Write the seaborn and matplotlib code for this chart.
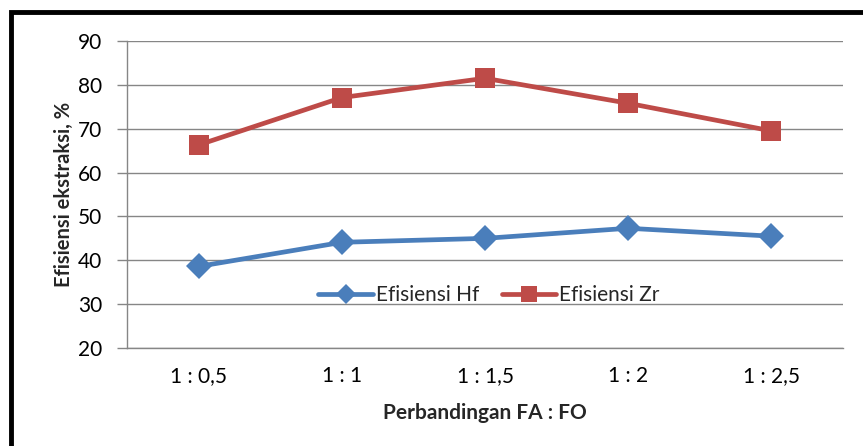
import matplotlib
matplotlib.use("Agg")
import matplotlib.pyplot as plt
import matplotlib.patches as mpatches
import seaborn as sns
import pandas as pd
import numpy as np

categories = ["1 : 0,5", "1 : 1", "1 : 1,5", "1 : 2", "1 : 2,5"]
hf_values = [38.6, 44.1, 45.0, 47.3, 45.5]
zr_values = [66.3, 77.1, 81.5, 75.8, 69.5]
series_names = ["Efisiensi Hf", "Efisiensi Zr"]
y_ticks = [20, 30, 40, 50, 60, 70, 80, 90]

df = pd.DataFrame({
    "x": list(range(len(categories))) * 2,
    "y": hf_values + zr_values,
    "series": [series_names[0]] * len(categories) + [series_names[1]] * len(categories),
})

sns.set_theme(style="white")
plt.rcParams["font.family"] = ["Lato", "DejaVu Sans"]

fig = plt.figure(figsize=(8.63, 4.46), dpi=100)
ax = fig.add_axes([127/863, 1-348/446, (843-127)/863, (348-41)/446])

sns.lineplot(data=df, x="x", y="y", hue="series", style="series",
             markers={series_names[0]: "D", series_names[1]: "s"}, dashes=False,
             palette={series_names[0]: "#4A7EBB", series_names[1]: "#BE4B48"},
             linewidth=3.4, markersize=11, markeredgewidth=0, ax=ax, zorder=3)
for line in ax.lines:
    if line.get_marker() == "s":
        line.set_markersize(14.5)
    elif line.get_marker() == "D":
        line.set_markersize(13)

ax.set_xlim(-0.5, len(categories) - 0.5)
ax.set_ylim(20, 90)
ax.set_yticks(y_ticks)
ax.set_xticks(range(len(categories)))
ax.set_xticklabels(categories)
ax.set_xticks(np.arange(-0.5, len(categories), 1.0), minor=True)
ax.tick_params(axis="x", which="major", length=0, pad=13, labelsize=15, colors="black")
ax.tick_params(axis="x", which="minor", length=7, width=1, color="#868686", direction="out")
ax.tick_params(axis="y", which="major", length=7, width=1, color="#868686", direction="out",
               labelsize=15, labelcolor="black", pad=11, left=True)
ax.grid(axis="y", color="#868686", linewidth=1)
ax.grid(axis="x", visible=False)
for s in ["top", "right"]:
    ax.spines[s].set_visible(False)
for s in ["left", "bottom"]:
    ax.spines[s].set_color("#868686")
    ax.spines[s].set_linewidth(1)

ax.set_xlabel("Perbandingan FA : FO", fontsize=15, fontweight="bold", labelpad=12)
ax.set_ylabel("Efisiensi ekstraksi, %", fontsize=14.5, fontweight="bold", labelpad=3)

leg = ax.legend(loc="center", bbox_to_anchor=((489-127)/716, (348-295)/307), ncol=2,
                frameon=False, fontsize=15, handlelength=2.6, handletextpad=0.15,
                columnspacing=1.1, borderpad=0, markerscale=0.75)

frame = mpatches.Rectangle((10.5/863, -0.1), 1.0, 1 - 12/446 + 0.1, transform=fig.transFigure,
                           fill=False, edgecolor="black", linewidth=3.5, clip_on=False)
fig.patches.append(frame)

fig.savefig("out.png", dpi=100)
